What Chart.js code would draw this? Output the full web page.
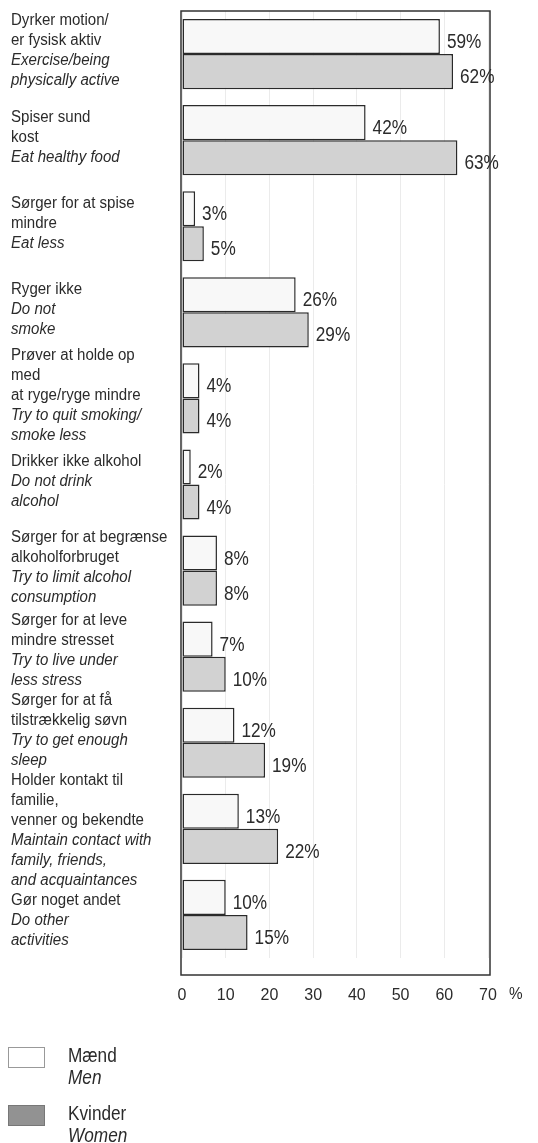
<!DOCTYPE html>
<html>
<head>
<meta charset="utf-8">
<script src="https://cdn.jsdelivr.net/npm/chart.js@4/dist/chart.umd.min.js"></script>
<style>
html, body { margin: 0; padding: 0; background: #fff; }
#wrap { width: 538px; height: 1143px; }
</style>
</head>
<body>
<div id="wrap"><canvas id="chart" width="538" height="1143"></canvas></div>
<script>
// category labels, danish lines + english lines (english is drawn italic)
var labelsDa = [
    ["Dyrker motion/", "er fysisk aktiv"],
    ["Spiser sund", "kost"],
    ["Sørger for at spise", "mindre"],
    ["Ryger ikke"],
    ["Prøver at holde op", "med", "at ryge/ryge mindre"],
    ["Drikker ikke alkohol"],
    ["Sørger for at begrænse", "alkoholforbruget"],
    ["Sørger for at leve", "mindre stresset"],
    ["Sørger for at få", "tilstrækkelig søvn"],
    ["Holder kontakt til", "familie,", "venner og bekendte"],
    ["Gør noget andet"]
];
var labelsEn = [
    ["Exercise/being", "physically active"],
    ["Eat healthy food"],
    ["Eat less"],
    ["Do not", "smoke"],
    ["Try to quit smoking/", "smoke less"],
    ["Do not drink", "alcohol"],
    ["Try to limit alcohol", "consumption"],
    ["Try to live under", "less stress"],
    ["Try to get enough", "sleep"],
    ["Maintain contact with", "family, friends,", "and acquaintances"],
    ["Do other", "activities"]
];
var men   = [59, 42, 3, 26, 4, 2, 8, 7, 12, 13, 10];
var women = [62, 63, 5, 29, 4, 4, 8, 10, 19, 22, 15];
var seriesDa = ["Mænd", "Kvinder"];
var seriesEn = ["Men", "Women"];
var xMax = 70;
var xStep = 10;

var textColor = "#2b2b2b";
var fontFam = "'Liberation Sans', Arial, sans-serif";

// the original type is a narrow helvetica, so squeeze the text a little
function narrowText(ctx, txt, x, y, sx){
    ctx.save();
    ctx.translate(x, y);
    ctx.scale(sx, 1);
    ctx.fillText(txt, 0, 0);
    ctx.restore();
}

// frame round the plot, a bit taller than the chart area like the original
var framePlugin = {
    id: "frame",
    beforeDatasetsDraw: function(chart){
        var a = chart.chartArea, ctx = chart.ctx;
        ctx.save();
        ctx.strokeStyle = "#333";
        ctx.lineWidth = 1.5;
        ctx.strokeRect(a.left - 1, a.top, a.right - a.left + 3, a.bottom + 17 - a.top);
        ctx.restore();
    }
};

var valuePlugin = {
    id: "values",
    afterDatasetsDraw: function(chart){
        var ctx = chart.ctx;
        ctx.save();
        ctx.fillStyle = textColor;
        ctx.font = "20px " + fontFam;
        ctx.textBaseline = "middle";
        ctx.textAlign = "left";
        chart.data.datasets.forEach(function(ds, di){
            var meta = chart.getDatasetMeta(di);
            meta.data.forEach(function(bar, i){
                narrowText(ctx, ds.data[i] + "%", bar.x + 7, bar.y + 6, 0.86);
            });
        });
        ctx.restore();
    }
};

var labelPlugin = {
    id: "catLabels",
    afterDraw: function(chart){
        var ctx = chart.ctx, y = chart.scales.y, x = chart.scales.x;
        var lh = 20;

        // centre every label block on its tick, then push blocks apart where they collide
        var blocks = [];
        for(var i=0;i<labelsDa.length;i++){
            var n = labelsDa[i].length + labelsEn[i].length;
            blocks.push({c: y.getPixelForValue(i) - 3, h: n * lh});
        }
        for(var it=0;it<30;it++){
            for(var b=1;b<blocks.length;b++){
                var up = blocks[b-1], dn = blocks[b];
                var o = (up.c + up.h/2) - (dn.c - dn.h/2);
                if(o > 0){ up.c -= o/2; dn.c += o/2; }
            }
        }

        ctx.save();
        ctx.fillStyle = textColor;
        ctx.textBaseline = "middle";
        ctx.textAlign = "left";
        for(var i=0;i<labelsDa.length;i++){
            var ty = blocks[i].c - blocks[i].h/2 + lh/2;
            ctx.font = "16px " + fontFam;
            for(var j=0;j<labelsDa[i].length;j++){
                narrowText(ctx, labelsDa[i][j], 11, ty, 0.94); ty += lh;
            }
            ctx.font = "italic 16px " + fontFam;
            for(var k=0;k<labelsEn[i].length;k++){
                narrowText(ctx, labelsEn[i][k], 11, ty, 0.94); ty += lh;
            }
        }
        // percent sign after the axis
        ctx.font = "17px " + fontFam;
        narrowText(ctx, "%", x.right + 21, chart.chartArea.bottom + 36, 0.9);

        // legend
        var ly = chart.chartArea.bottom + 89;
        chart.data.datasets.forEach(function(ds, di){
            var top = ly + di * 58;
            ctx.fillStyle = di == 0 ? "#ffffff" : "#929292";
            ctx.fillRect(8, top, 37, 21);
            ctx.strokeStyle = di == 0 ? "#999" : "#777";
            ctx.lineWidth = 1;
            ctx.strokeRect(8.5, top + 0.5, 36, 20);
            ctx.fillStyle = textColor;
            ctx.font = "20px " + fontFam;
            narrowText(ctx, seriesDa[di], 68, top + 9, 0.86);
            ctx.font = "italic 20px " + fontFam;
            narrowText(ctx, seriesEn[di], 68, top + 31, 0.86);
        });
        ctx.restore();
    }
};

var ctx = document.getElementById("chart");
var chart = new Chart(ctx, {
    type: "bar",
    data: {
        labels: labelsDa.map(function(l){ return l.join(" "); }),
        datasets: [{
            label: seriesDa[0],
            data: men,
            backgroundColor: "#f8f8f8",
            borderColor: "#2a2a2a",
            borderWidth: 1.5,
            borderSkipped: false
        }, {
            label: seriesDa[1],
            data: women,
            backgroundColor: "#d2d2d2",
            borderColor: "#2a2a2a",
            borderWidth: 1.5,
            borderSkipped: false
        }]
    },
    options: {
        indexAxis: "y",
        responsive: false,
        animation: false,
        devicePixelRatio: 1,
        layout: { padding: { top: 11, right: 50, bottom: 0, left: 0 } },
        datasets: { bar: { categoryPercentage: 0.815, barPercentage: 1.0 } },
        plugins: { legend: { display: false }, tooltip: { enabled: false } },
        scales: {
            y: {
                type: "category",
                offset: true,
                grid: { display: false },
                border: { display: false },
                ticks: { display: false },
                afterFit: function(s){ s.width = 182; }
            },
            x: {
                min: 0,
                max: xMax,
                ticks: {
                    stepSize: xStep,
                    color: textColor,
                    padding: 28,
                    font: { family: fontFam, size: 16 }
                },
                grid: { color: "#ebebeb", drawTicks: false },
                border: { display: false },
                afterFit: function(s){ s.width; s.height = 185; }
            }
        }
    },
    plugins: [framePlugin, valuePlugin, labelPlugin]
});
</script>
</body>
</html>
